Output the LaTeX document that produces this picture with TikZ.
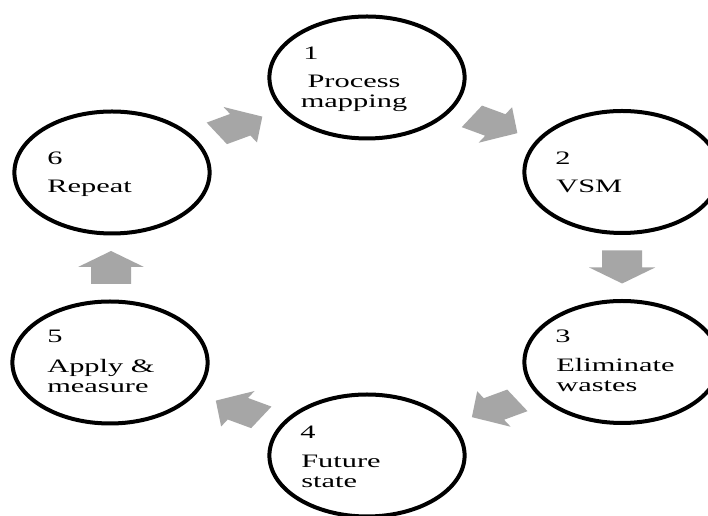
\documentclass[tikz,border=0pt]{standalone}
\usepackage{fontspec}
\setmainfont{Liberation Serif}
\usetikzlibrary{calc}
\definecolor{arrowgray}{RGB}{166,166,166}
\tikzset{
  stage/.style={circle, draw=black, line width=4pt, minimum size=122pt,
    inner sep=0pt, transform shape},
  stagetext/.style={inner sep=0pt, transform shape,
    font=\fontsize{19}{20}\selectfont, align=left, anchor=base west},
  blockarrow/.pic={
    \fill[arrowgray] (-16.5pt,-12.5pt) -- (0.5pt,-12.5pt) -- (0.5pt,-20.6pt)
      -- (16.5pt,0pt) -- (0.5pt,20.6pt) -- (0.5pt,12.5pt) -- (-16.5pt,12.5pt) -- cycle;
  },
  flow/.style={transform shape}
}
\begin{document}
\begin{tikzpicture}[x=0.625pt, y=1pt, xscale=1.6]
\fill[white] (0,0) rectangle (708,516);
\useasboundingbox (0,0) rectangle (708,516);

% the six stages of the cycle
\node[stage] (c1) at (367,438.5) {};
\node[stage] (c2) at (622,344) {};
\node[stage] (c3) at (622,154) {};
\node[stage] (c4) at (367,60.5) {};
\node[stage] (c5) at (110,153.5) {};
\node[stage] (c6) at (112,343.5) {};

% stage numbers
\node[stagetext] (n1) at (303,456) {1};
\node[stagetext] (n2) at (555,351) {2};
\node[stagetext] (n3) at (555,173) {3};
\node[stagetext] (n4) at (300,77) {4};
\node[stagetext] (n5) at (47,173) {5};
\node[stagetext] (n6) at (47,351) {6};

% stage names (a multi-line node sits on the baseline of its last line)
\node[stagetext, align=center, anchor=base] (l1) at (354,408) {Process\\mapping};
\node[stagetext] (l2) at (556,323) {VSM};
\node[stagetext] (l3) at (556,124) {Eliminate\\wastes};
\node[stagetext] (l4) at (301,28) {Future\\state};
\node[stagetext] (l5) at (47,123) {Apply \&\\measure};
\node[stagetext] (l6) at (47,323) {Repeat};

% block arrows between consecutive stages
\pic[flow, rotate=-30.5] (a12) at ($(c1)!0.5!(c2)$) {blockarrow};
\pic[flow, rotate=-90]   (a23) at ($(c2)!0.5!(c3)$) {blockarrow};
\pic[flow, rotate=210.5] (a34) at ($(c3)!0.5!(c4)$) {blockarrow};
\pic[flow, rotate=149.5] (a45) at ($(c4)!0.5!(c5)$) {blockarrow};
\pic[flow, rotate=90]    (a56) at ($(c5)!0.5!(c6)$) {blockarrow};
\pic[flow, rotate=30.5]  (a61) at ($(c6)!0.5!(c1)$) {blockarrow};
\end{tikzpicture}
\end{document}
